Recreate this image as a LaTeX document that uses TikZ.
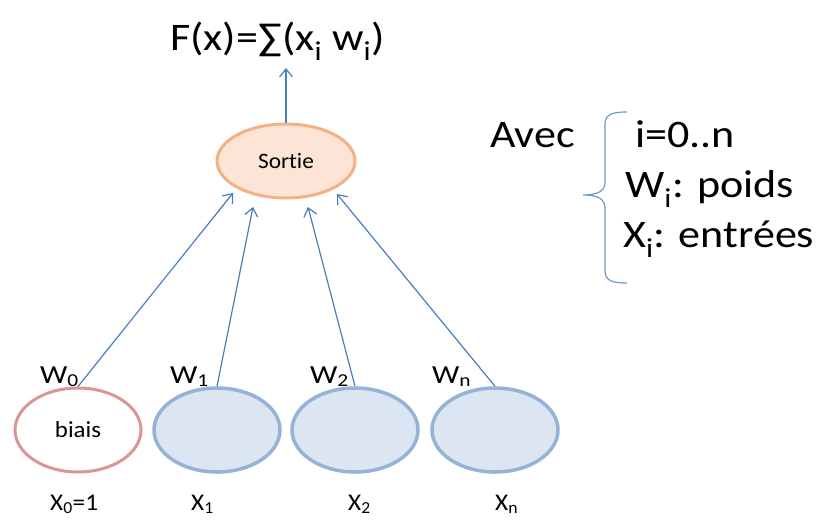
\documentclass[tikz,border=0pt]{standalone}
\usepackage{graphicx}
\usepackage{fontspec}
\setmainfont{Carlito}[Ligatures={NoCommon}]
\usetikzlibrary{arrows.meta,shapes.geometric}
\definecolor{lnblue}{HTML}{4A7EBB}
\definecolor{inpfill}{HTML}{DCE6F2}
\definecolor{inpdraw}{HTML}{95B3D7}
\definecolor{biasdraw}{HTML}{D99694}
\definecolor{outfill}{HTML}{FCE4D6}
\definecolor{outdraw}{HTML}{F4B183}
\newcommand{\wtxt}[2][1.13]{\scalebox{#1}[1]{#2}}
\begin{document}
\begin{tikzpicture}[x=1pt,y=-1pt,
  inp/.style={ellipse, draw=inpdraw, fill=inpfill, line width=3.5pt, minimum width=126pt, minimum height=84pt, inner sep=0pt},
  biasnode/.style={ellipse, draw=biasdraw, fill=white, line width=3pt, minimum width=126pt, minimum height=84pt, inner sep=0pt, font=\fontsize{23}{27}\selectfont},
  outnode/.style={ellipse, draw=outdraw, fill=outfill, line width=3pt, minimum width=138pt, minimum height=74pt, inner sep=0pt, font=\fontsize{22}{26}\selectfont},
  conn/.style={draw=lnblue, line width=1.2pt, -{Straight Barb[length=8pt,width=13pt,line width=1.2pt]}},
  wlab/.style={anchor=base west, inner sep=0pt, font=\fontsize{26}{30}\selectfont},
  xlab/.style={anchor=base west, inner sep=0pt, font=\fontsize{24}{28}\selectfont},
  big/.style={anchor=base west, inner sep=0pt, font=\fontsize{39}{45}\selectfont},
  brace/.style={draw=lnblue!80, line width=1.2pt}
]
\useasboundingbox (0,0) rectangle (819,520);

% output node
\node[outnode] (s) at (286,161) {\wtxt[1.06]{Sortie}};

% input nodes
\node[biasnode] (b0) at (78,430) {\wtxt[1.08]{biais}};
\node[inp] (b1) at (217,430) {};
\node[inp] (b2) at (355,430) {};
\node[inp] (b3) at (495,430) {};

% arrow tips at the output
\coordinate (t0) at (233,193);
\coordinate (t1) at (253,207);
\coordinate (t2) at (308,207);
\coordinate (t3) at (337,194);
\coordinate (tf) at (286,68);

\draw[conn] (b0.north) -- (t0);
\draw[conn] (b1.north) -- (t1);
\draw[conn] (b2.north) -- (t2);
\draw[conn] (b3.north) -- (t3);
\draw[conn] (s.north) -- (tf);

% formula
\node[big] (f) at (170,50) {\wtxt{F(x)=∑(x\textsubscript{i} w\textsubscript{i})}};

% weight labels
\node[wlab] (w0) at (40,383) {\wtxt[1.18]{W\textsubscript{0}}};
\node[wlab] (w1) at (170,383) {\wtxt[1.18]{W\textsubscript{1}}};
\node[wlab] (w2) at (310,383) {\wtxt[1.18]{W\textsubscript{2}}};
\node[wlab] (w3) at (432,383) {\wtxt[1.18]{W\textsubscript{n}}};

% input labels
\node[xlab] (x0) at (50,510) {\wtxt[1.05]{X\textsubscript{0}=1}};
\node[xlab] (x1) at (191,510) {\wtxt[1.05]{X\textsubscript{1}}};
\node[xlab] (x2) at (348,510) {\wtxt[1.05]{X\textsubscript{2}}};
\node[xlab] (x3) at (495,510) {\wtxt[1.05]{X\textsubscript{n}}};

% legend
\node[big] (avec) at (490,147) {\wtxt{Avec}};
\node[big] (l1) at (635,147) {\wtxt{i=0..n}};
\node[big] (l2) at (625,197) {\wtxt{W\textsubscript{i}: poids}};
\node[big] (l3) at (623,247) {\wtxt{X\textsubscript{i}: entrées}};

\draw[brace] (627,112) .. controls (613,112) and (605,114) .. (605,124)
  -- (605,182) .. controls (605,191) and (598,195) .. (583,195)
  .. controls (598,195) and (605,199) .. (605,208)
  -- (605,271) .. controls (605,281) and (613,283) .. (627,283);
\end{tikzpicture}
\end{document}
